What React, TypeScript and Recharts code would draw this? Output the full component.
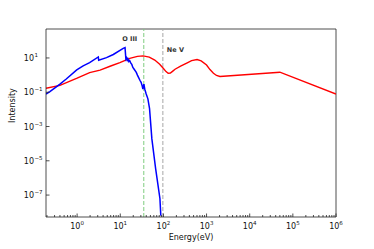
import { Line, LineChart, ReferenceLine, XAxis, YAxis } from "recharts";

// SED (red)
const sedEnergy = [0.19, 0.4, 1.0, 1.95, 3.4, 6, 9.8, 16.6, 25, 33.9, 47, 63, 82, 100, 115, 129, 145, 165, 186, 250, 347, 450, 603, 750, 1000, 1200, 1445, 1700, 2040, 50000, 1e6];
const sedValue = [0.17, 0.25, 0.66, 1.41, 1.95, 3.4, 5.4, 9.5, 12.3, 13.2, 11.2, 7.6, 4.3, 2.45, 1.6, 1.29, 1.3, 1.7, 2.2, 3.3, 5.0, 7.0, 8.1, 6.8, 3.9, 2.1, 1.29, 0.95, 0.83, 1.48, 0.079];

// spectrum (blue)
const specEnergy = [0.19, 0.234, 0.4, 0.56, 0.98, 1.38, 1.95, 3.1, 3.16, 4.8, 6.9, 11.7, 12.9, 13.5, 14, 14.5, 15, 15.8, 16.5, 17.6, 18.5, 19.6, 21, 23.5, 25, 26.5, 28.5, 30.4, 32, 33.4, 35.3, 37, 39.9, 43.7, 47.7, 54, 66, 83, 87];
const specValue = [0.079, 0.11, 0.3, 0.59, 2.0, 3.5, 5.4, 11.5, 7.4, 10.5, 16, 36, 40, 8.5, 10, 7.5, 9, 6.2, 7, 5.0, 4.2, 2.8, 2.2, 1.45, 1.0, 0.74, 0.5, 0.38, 0.25, 0.155, 0.3, 0.15, 0.079, 0.041, 0.011, 1.9e-4, 3.5e-6, 6.3e-8, 6.3e-9];

const xMajor = [1, 10, 100, 1000, 10000, 100000, 1000000];
const xMajorLabels = ["0", "1", "2", "3", "4", "5", "6"];
const yMajor = [1e-7, 1e-5, 1e-3, 1e-1, 10];
const yMajorLabels = ["\u22127", "\u22125", "\u22123", "\u22121", "1"];

const oIII = 35.1;
const neV = 97.1;

const xMin = 0.19;
const xMax = 1e6;
const yMin = 5.25e-9;
const yMax = 490;

const sed = sedEnergy.map((e, i) => ({ e, v: sedValue[i] }));
const spec = specEnergy.map((e, i) => ({ e, v: specValue[i] }));

const xMinor: number[] = [];
[0.1, 1, 10, 100, 1000, 10000, 100000].forEach((d) => {
  [2, 3, 4, 5, 6, 7, 8, 9].forEach((m) => {
    const t = d * m;
    if (t >= xMin && t <= xMax) xMinor.push(t);
  });
});
const xTicks = [...xMinor, ...xMajor].sort((a, b) => a - b);

const font = "DejaVu Sans, sans-serif";
const frame = "#222";

function XTick(props: any) {
  const { x, y, payload } = props;
  const idx = xMajor.indexOf(payload.value);
  const major = idx >= 0;
  return (
    <g>
      <line x1={x} x2={x} y1={y} y2={y - (major ? 3.5 : 2)} stroke={frame} strokeWidth={0.8} />
      {major ? (
        <text x={x} y={y + 12} textAnchor="middle" fontSize={8} fontFamily={font} fill="#111">
          10
          <tspan dy={-4} fontSize={5.5}>
            {xMajorLabels[idx]}
          </tspan>
        </text>
      ) : null}
    </g>
  );
}

function YTick(props: any) {
  const { x, y, payload } = props;
  const idx = yMajor.indexOf(payload.value);
  return (
    <g>
      <line x1={x} x2={x + 3.5} y1={y} y2={y} stroke={frame} strokeWidth={0.8} />
      <text x={x - 12} y={y + 3} textAnchor="end" fontSize={8} fontFamily={font} fill="#111">
        10
      </text>
      <text x={x - 11.5} y={y - 1} textAnchor="start" fontSize={5.5} fontFamily={font} fill="#111">
        {yMajorLabels[idx]}
      </text>
    </g>
  );
}

export default function App() {
  return (
    <div style={{ position: "absolute", left: 0, top: 0 }}>
      <style>{"body{margin:0}"}</style>
      <LineChart width={374} height={249} margin={{ top: 29, right: 38, bottom: 0, left: 0 }}>
        <XAxis
          dataKey="e"
          type="number"
          scale="log"
          domain={[xMin, xMax]}
          allowDataOverflow
          ticks={xTicks}
          interval={0}
          tick={<XTick />}
          tickSize={0}
          tickMargin={0}
          tickLine={false}
          axisLine={{ stroke: frame, strokeWidth: 0.8 }}
          height={32}
          label={{ value: "Energy(eV)", position: "insideBottom", offset: 9, fontSize: 8, fontFamily: font, fill: "#111" }}
        />
        <YAxis
          type="number"
          scale="log"
          domain={[yMin, yMax]}
          allowDataOverflow
          ticks={yMajor}
          interval={0}
          tick={<YTick />}
          tickSize={0}
          tickMargin={0}
          tickLine={false}
          axisLine={{ stroke: frame, strokeWidth: 0.8 }}
          width={46}
          label={{ value: "Intensity", angle: -90, position: "insideLeft", offset: 12, fontSize: 8, fontFamily: font, fill: "#111" }}
        />
        <ReferenceLine y={yMax} stroke={frame} strokeWidth={0.8} />
        <ReferenceLine x={xMax} stroke={frame} strokeWidth={0.8} />
        <ReferenceLine
          x={oIII}
          stroke="#7fcc7f"
          strokeDasharray="4 2"
          strokeWidth={1}
          label={(p: any) => (
            <text x={p.viewBox.x - 6.5} y={p.viewBox.y + 12} textAnchor="end" fontSize={6.5} fontFamily={font} fontWeight="bold" fill="#333">
              O III
            </text>
          )}
        />
        <ReferenceLine
          x={neV}
          stroke="#a6a6a6"
          strokeDasharray="4 2"
          strokeWidth={1}
          label={(p: any) => (
            <text x={p.viewBox.x + 4} y={p.viewBox.y + 23} textAnchor="start" fontSize={6.5} fontFamily={font} fontWeight="bold" fill="#333">
              Ne V
            </text>
          )}
        />
        <Line data={sed} dataKey="v" type="linear" stroke="#ff0000" strokeWidth={1.4} dot={false} isAnimationActive={false} />
        <Line data={spec} dataKey="v" type="linear" stroke="#0000ff" strokeWidth={1.5} dot={false} isAnimationActive={false} />
      </LineChart>
    </div>
  );
}
